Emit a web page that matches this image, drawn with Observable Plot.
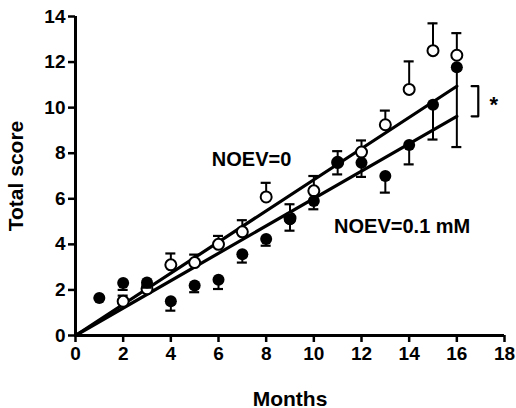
<!DOCTYPE html>
<html>
<head>
<meta charset="utf-8">
<script src="https://cdn.jsdelivr.net/npm/d3@7"></script>
<script src="https://cdn.jsdelivr.net/npm/@observablehq/plot@0.6"></script>
<style>
  html, body { margin: 0; padding: 0; background: #fff; }
</style>
</head>
<body>
<div id="chart"></div>
<script>
// Tick labels
const xTicks = [0, 2, 4, 6, 8, 10, 12, 14, 16, 18];
const yTicks = [0, 2, 4, 6, 8, 10, 12, 14];

// NOEV = 0 (open circles), error bars upward
const openMonths = [2, 3, 4, 5, 6, 7, 8, 9, 10, 11, 12, 13, 14, 15, 16];
const openMean   = [1.5, 2.05, 3.1, 3.2, 4.0, 4.55, 6.08, 5.15, 6.35, 7.6, 8.05, 9.25, 10.8, 12.5, 12.3];
const openUpper  = [1.75, 2.2, 3.6, 3.55, 4.37, 5.06, 6.7, 5.76, 7.0, 8.09, 8.56, 9.87, 12.03, 13.7, 13.27];

// NOEV = 0.1 mM (filled circles), error bars downward
const filledMonths = [1, 2, 3, 4, 5, 6, 7, 8, 9, 10, 11, 12, 13, 14, 15, 16];
const filledMean   = [1.65, 2.3, 2.33, 1.5, 2.19, 2.45, 3.57, 4.23, 5.1, 5.9, 7.58, 7.58, 7.0, 8.36, 10.13, 11.77];
const filledLower  = [1.65, 2.0, 2.1, 1.09, 1.9, 2.04, 3.2, 3.94, 4.6, 5.54, 7.07, 6.96, 6.27, 7.51, 8.6, 8.27];

// Regression lines (through origin)
const fitMonths = [0, 16];
const fitOpen   = [0, 10.94];
const fitFilled = [0, 9.62];

// Series labels
const seriesNames = ["NOEV=0", "NOEV=0.1 mM"];

const openData = openMonths.map((m, i) => ({x: m, y: openMean[i], e: openUpper[i]}));
const filledData = filledMonths.map((m, i) => ({x: m, y: filledMean[i], e: filledLower[i]}));
const openFit = fitMonths.map((m, i) => ({x: m, y: fitOpen[i]}));
const filledFit = fitMonths.map((m, i) => ({x: m, y: fitFilled[i]}));
const bracket = [
  {x: 16.62, y: fitOpen[1]}, {x: 16.9, y: fitOpen[1]},
  {x: 16.9, y: fitFilled[1]}, {x: 16.62, y: fitFilled[1]}
];
const cap = 0.21;

const chart = Plot.plot({
  width: 516,
  height: 408,
  marginLeft: 75,
  marginRight: 12,
  marginTop: 16,
  marginBottom: 73,
  style: {fontFamily: "'Liberation Sans', Arial, sans-serif", fontWeight: "bold", fontSize: "19px", color: "#000", background: "#fff"},
  x: {domain: [0, 18]},
  y: {domain: [0, 14]},
  marks: [
    Plot.axisX({ticks: xTicks, tickSize: 7, tickPadding: 4, strokeWidth: 2.5, label: null, fontSize: 19}),
    Plot.axisY({ticks: yTicks, tickSize: 7, tickPadding: 3, strokeWidth: 2.5, label: null, fontSize: 19}),
    Plot.axisX({ticks: [], label: "Months", labelAnchor: "center", labelOffset: 70, labelArrow: "none", fontSize: 21}),
    Plot.axisY({ticks: [], label: "Total score", labelAnchor: "center", labelOffset: 67, labelArrow: "none", fontSize: 21}),
    Plot.ruleY([0], {stroke: "#000", strokeWidth: 3}),
    Plot.ruleX([0], {stroke: "#000", strokeWidth: 3}),
    // fit lines
    Plot.line(openFit, {x: "x", y: "y", stroke: "#000", strokeWidth: 3.2}),
    Plot.line(filledFit, {x: "x", y: "y", stroke: "#000", strokeWidth: 3.2}),
    // open error bars (upward)
    Plot.ruleX(openData, {x: "x", y1: "y", y2: "e", stroke: "#000", strokeWidth: 2}),
    Plot.ruleY(openData, {y: "e", x1: d => d.x - cap, x2: d => d.x + cap, stroke: "#000", strokeWidth: 2.2}),
    Plot.dot(openData, {x: "x", y: "y", r: 5.5, fill: "#fff", stroke: "#000", strokeWidth: 2}),
    // filled error bars (downward)
    Plot.ruleX(filledData, {x: "x", y1: "y", y2: "e", stroke: "#000", strokeWidth: 2}),
    Plot.ruleY(filledData, {y: "e", x1: d => d.x - cap, x2: d => d.x + cap, stroke: "#000", strokeWidth: 2.2}),
    Plot.dot(filledData, {x: "x", y: "y", r: 6, fill: "#000", stroke: "none"}),
    // significance bracket
    Plot.line(bracket, {x: "x", y: "y", stroke: "#000", strokeWidth: 2.2}),
    Plot.text(["*"], {x: 17.55, y: (fitOpen[1] + fitFilled[1]) / 2, text: d => d, fontSize: 22, dy: 4}),
    // series labels
    Plot.text([seriesNames[0]], {x: 5.72, y: 7.7, text: d => d, textAnchor: "start", fontSize: 20}),
    Plot.text([seriesNames[1]], {x: 10.85, y: 4.8, text: d => d, textAnchor: "start", fontSize: 20})
  ]
});
document.getElementById("chart").appendChild(chart);
</script>
</body>
</html>
